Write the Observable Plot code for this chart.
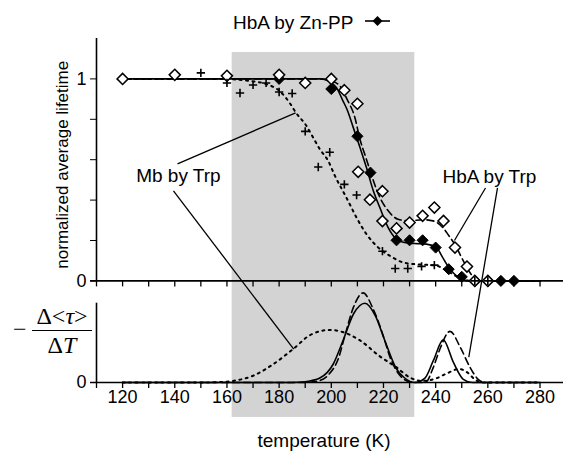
<!DOCTYPE html>
<html><head><meta charset="utf-8">
<script src="https://cdn.jsdelivr.net/npm/d3@7"></script>
<script src="https://cdn.jsdelivr.net/npm/@observablehq/plot@0.6"></script>
<style>
body{margin:0;background:#fff;font-family:"Liberation Sans",Arial,sans-serif;}
#wrap{position:relative;width:566px;height:455px;overflow:hidden;}
#legend{position:absolute;left:0;top:0;width:566px;height:36px;font-size:19px;}
#chart{position:absolute;left:0;top:36px;}
.serif{font-family:"Liberation Serif","Times New Roman",serif;font-size:24px;line-height:24px;position:absolute;white-space:nowrap;}
</style></head><body>
<div id="wrap">
  <div id="legend">
    <span style="position:absolute;left:233px;top:13px;line-height:20px;">HbA by Zn-PP</span>
    <svg style="position:absolute;left:364px;top:14px;" width="27" height="14">
      <line x1="1" y1="7" x2="26" y2="7" stroke="#000" stroke-width="1.6"/>
      <polygon points="13.5,2 18.5,7 13.5,12 8.5,7" fill="#000"/>
    </svg>
  </div>
  <div id="chart"></div>
  <div id="dlabel">
    <span class="serif" style="left:13px;top:317px;">−</span>
    <span class="serif" style="left:30px;width:64px;text-align:center;top:304px;">Δ&lt;<i>τ</i>&gt;</span>
    <div style="position:absolute;left:32px;top:330px;width:60px;border-top:1.5px solid #000;"></div>
    <span class="serif" style="left:30px;width:64px;text-align:center;top:333px;">Δ<i>T</i></span>
  </div>
</div>
<script>
// ---- data (temperature in K) ----
const shadedFrom = 162, shadedTo = 232;

// upper panel: normalized average lifetime
const hbaZnPoints = [[180,1.0],[200,0.95],[210,0.716],[215,0.536],[225,0.201],[230,0.201],[235,0.201],[240,0.165],[245,0.058],[250,0.02],[255,0],[260,0],[265,0],[270,0]];
const hbaTrpPoints = [[120,1.0],[140,1.02],[160,1.015],[180,1.02],[190,0.98],[200,1.0],[205,0.944],[210,0.877],[210.3,0.54],[214.8,0.402],[219.6,0.444],[219.6,0.296],[225,0.26],[230,0.289],[235,0.322],[239.5,0.363],[243,0.297],[247.4,0.165],[252,0.071],[255,0],[260,0]];
const mbTrpPoints = [[150,1.03],[160,0.98],[165,0.93],[170,0.97],[175,0.98],[180,0.935],[185,0.928],[190,0.74],[195,0.564],[199.4,0.637],[205,0.478],[209.7,0.425],[219.6,0.147],[224.5,0.061],[229.3,0.061],[234.6,0.072],[239.5,0.078],[255,0],[260,0]];

const hbaZnFit = [[120,1],[190,1],[196,1.0],[199,0.99],[202,0.957],[204.5,0.89],[206,0.85],[208.4,0.76],[211,0.66],[213.5,0.56],[216,0.45],[218.6,0.363],[221.8,0.264],[225,0.206],[228,0.19],[232,0.185],[236.5,0.182],[240.4,0.165],[242.5,0.12],[244.2,0.083],[248,0.025],[253,0],[280,0]];
const hbaTrpFit = [[120,1],[195,1],[200,0.99],[203.3,0.965],[206,0.9],[209,0.81],[211,0.7],[213,0.62],[215,0.54],[217.4,0.45],[220,0.38],[221.8,0.347],[223.7,0.32],[225.6,0.305],[230,0.297],[235,0.303],[239,0.297],[242.9,0.262],[245,0.225],[247.4,0.18],[250.6,0.099],[253.2,0.04],[256.3,0],[280,0]];
const mbTrpFit = [[120,1],[155,1],[162.3,0.998],[168.7,0.99],[175.1,0.974],[180.2,0.94],[184.1,0.88],[186.6,0.83],[190.5,0.767],[193,0.71],[195.6,0.652],[198.8,0.594],[201.4,0.52],[205.8,0.412],[209.7,0.313],[213.5,0.231],[218,0.165],[222.5,0.124],[227.6,0.091],[232,0.083],[236,0.08],[240.3,0.075],[245,0.045],[250,0.01],[254,0],[280,0]];

// lower panel: -d<tau>/dT (arbitrary units, axis top = 1)
const hbaZnDeriv = [[120,0],[185,0],[190,0.01],[195.6,0.056],[200.7,0.23],[204.5,0.53],[208.6,0.87],[212.9,1.0],[216.9,0.84],[220.5,0.53],[225,0.17],[228,0.06],[232,0],[235.9,0.056],[239.1,0.275],[242.9,0.537],[246.8,0.253],[250.6,0.04],[254,0],[280,0]];
const hbaTrpDeriv = [[120,0],[190,0],[195,0.02],[199,0.1],[202.9,0.32],[205.2,0.59],[208.5,0.95],[212.2,1.13],[216,0.93],[219.9,0.59],[222.5,0.32],[226.4,0.085],[230,0.01],[233,0],[236,0],[239.1,0.19],[241.6,0.42],[245.5,0.645],[249.5,0.44],[253.2,0.19],[256.3,0.04],[259,0],[280,0]];
const mbTrpDeriv = [[120,0],[150,0],[157,0.005],[162.3,0.02],[170,0.085],[177.7,0.23],[185.3,0.42],[192,0.6],[199.4,0.663],[206.5,0.61],[211,0.53],[218.6,0.33],[225,0.19],[230.1,0.063],[235,0.02],[240,0.05],[244,0.11],[249,0.17],[252,0.13],[255,0.04],[258,0],[280,0]];

// annotations: label positions and leader lines (upper-panel units; low2 = end point in lower panel units)
const annotLabels = [{t:141.4, v:0.522, s:"Mb by Trp"},{t:260.6, v:0.517, s:"HbA by Trp"}];
const annotLinks = [
  {t1:141.05, v1:0.579, t2:186.3, v2:0.832, low2:false},
  {t1:139.5, v1:0.446, t2:185.6, v2:0.42, low2:true},
  {t1:259.1, v1:0.46, t2:247.2, v2:0.2, low2:false},
  {t1:263.7, v1:0.46, t2:252.7, v2:0.32, low2:true}
];

// axes
const xTickVals = [110,120,130,140,150,160,170,180,190,200,210,220,230,240,250,260,270,280];
const xTickLabels = [120,140,160,180,200,220,240,260,280];
const yTickVals = [0,0.2,0.4,0.6,0.8,1];
const yTickLabels = [0,1];

// ---- layout of the two stacked panels on one y scale ----
const X0 = 110, X1 = 289, YTOP = 1.2;
const LOW0 = -0.503, LOWK = 0.3926;       // lower panel baseline & unit
const lo = v => LOW0 + v * LOWK;
const SHADE_TOP = 1.1307, SHADE_BOTTOM = -0.676;

const T = d => d[0], V = d => d[1], L = d => lo(d[1]);
const sw = 1.6;

const chart = Plot.plot({
  width: 566, height: 419,
  marginLeft: 96, marginRight: 3, marginTop: 2, marginBottom: 73,
  style: {fontFamily: "Liberation Sans, Arial, sans-serif", fontSize: "18px", background: "transparent", overflow: "visible"},
  x: {domain: [X0, X1], axis: null},
  y: {domain: [LOW0, YTOP], ticks: [LOW0, ...yTickVals], tickFormat: d => d === LOW0 ? "0" : (yTickLabels.includes(d) ? String(d) : ""), tickSize: 6, tickPadding: 4, label: null},
  marks: [
    Plot.rect([{a: shadedFrom, b: shadedTo}], {x1: "a", x2: "b", y1: SHADE_BOTTOM, y2: SHADE_TOP, fill: "#d3d3d3"}),
    // axis lines and ticks
    Plot.ruleX([X0], {y1: 0, y2: YTOP, strokeWidth: sw}),
    Plot.ruleX([X0], {y1: lo(0), y2: lo(1), strokeWidth: sw}),
    Plot.ruleY([0], {x1: X0, x2: X1, strokeWidth: sw, insetLeft: -6}),
    Plot.ruleY([lo(0)], {x1: X0, x2: X1, strokeWidth: sw, insetLeft: -6}),
    Plot.ruleX(xTickVals, {x: d => d, y1: 0, y2: 0, insetBottom: -6, strokeWidth: 1.3}),
    Plot.ruleX(xTickVals, {x: d => d, y1: LOW0, y2: LOW0, insetBottom: -6, strokeWidth: 1.3}),
    Plot.text(xTickLabels, {x: d => d, frameAnchor: "bottom", dy: 20, fontSize: 18, text: d => String(d)}),
    // upper curves
    Plot.line(mbTrpFit, {x: T, y: V, curve: "monotone-x", strokeWidth: 2, strokeDasharray: "2,4.5"}),
    Plot.line(hbaTrpFit, {x: T, y: V, curve: "monotone-x", strokeWidth: sw, strokeDasharray: "7,4"}),
    Plot.line(hbaZnFit, {x: T, y: V, curve: "monotone-x", strokeWidth: sw}),
    // lower curves
    Plot.line(mbTrpDeriv, {x: T, y: L, curve: "monotone-x", strokeWidth: 2, strokeDasharray: "2,4.5"}),
    Plot.line(hbaTrpDeriv, {x: T, y: L, curve: "monotone-x", strokeWidth: sw, strokeDasharray: "7,4"}),
    Plot.line(hbaZnDeriv, {x: T, y: L, curve: "monotone-x", strokeWidth: sw}),
    // points
    Plot.dot(hbaZnPoints, {x: T, y: V, symbol: "diamond2", r: 5, fill: "#000", stroke: "#000", strokeWidth: 1}),
    Plot.dot(hbaTrpPoints, {x: T, y: V, symbol: "diamond2", r: 5, fill: "#fff", stroke: "#000", strokeWidth: 1.5}),
    Plot.dot(mbTrpPoints, {x: T, y: V, symbol: "plus", r: 2.8, stroke: "#000", strokeWidth: 1.6}),
    // annotations
    Plot.link(annotLinks, {x1: "t1", y1: "v1", x2: "t2", y2: d => d.low2 ? lo(d.v2) : d.v2, stroke: "#000", strokeWidth: 1.3}),
    Plot.text(annotLabels, {x: "t", y: "v", text: "s", fontSize: 19, fill: "#000"}),
    // axis titles
    Plot.text(["normalized average lifetime"], {x: X0, y: 0.575, dx: -34, rotate: -90, fontSize: 17}),
    Plot.text(["temperature (K)"], {frameAnchor: "bottom", dx: -6, dy: 64, fontSize: 19})
  ]
});
document.getElementById("chart").appendChild(chart);
</script>
</body></html>
